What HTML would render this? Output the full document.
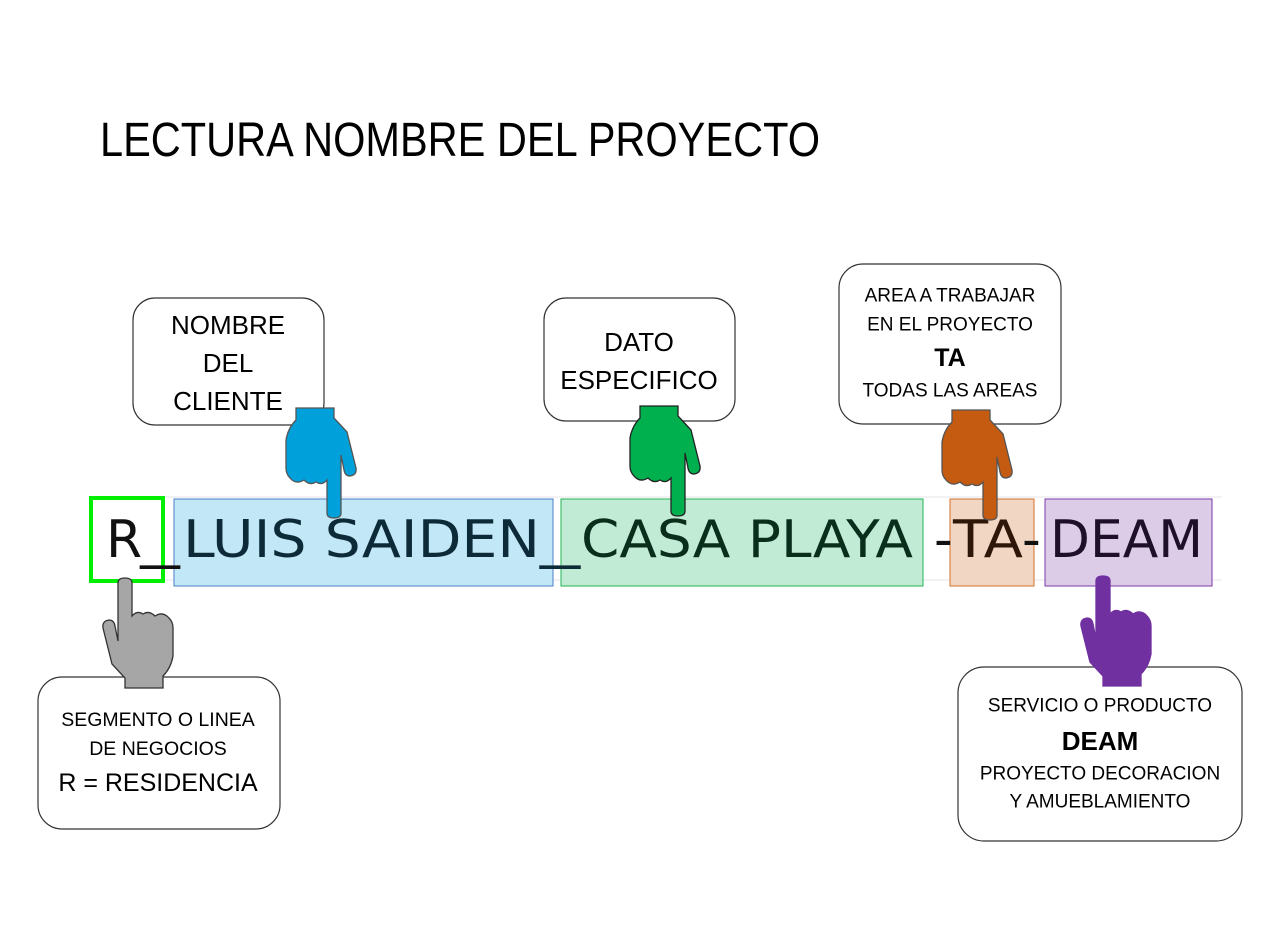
<!DOCTYPE html>
<html><head><meta charset="utf-8"><style>
html,body{margin:0;padding:0;background:#fff;}
svg{display:block;}
.c{font-family:"Liberation Sans",sans-serif;fill:#000;text-anchor:middle;dominant-baseline:central;}
.b{font-family:"DejaVu Sans",sans-serif;font-size:52px;}
</style></head><body>
<svg width="1280" height="945" viewBox="0 0 1280 945" xmlns="http://www.w3.org/2000/svg">
<defs>
<path id="hand" d="M0,0 L38,0 L38,10 L51,24 L60,60 Q61,67 54,68 Q49,68 48,62 L45,47 L45,105 Q45,110 38,110 Q31,110 31,105 L31,72 Q26,78 20,74 Q14,78 8,72 Q0,77 -6,70 Q-10,66 -10,60 L-10,32 Q-8,20 0,12 Z"/>
</defs>
<text x="100" y="156" font-family="Liberation Sans, sans-serif" font-size="48" textLength="720" lengthAdjust="spacingAndGlyphs">LECTURA NOMBRE DEL PROYECTO</text>

<line x1="88" y1="497" x2="1222" y2="497" stroke="#e6e6ea" stroke-width="1"/>
<line x1="88" y1="580" x2="1222" y2="580" stroke="#e6e6ea" stroke-width="1"/>

<rect x="174" y="499" width="379" height="87" fill="#c2e7f6" stroke="#4a7fc8" stroke-width="1"/>
<rect x="561" y="499" width="362" height="87" fill="#c1ebd5" stroke="#22b455" stroke-width="1"/>
<rect x="950" y="499" width="84" height="87" fill="#f0d6c3" stroke="#d4722a" stroke-width="1"/>
<rect x="1045" y="499" width="167" height="87" fill="#ddcce8" stroke="#7a3aa8" stroke-width="1"/>
<rect x="91" y="498" width="72" height="83" fill="none" stroke="#00ee00" stroke-width="4"/>

<text class="b" x="106" y="557" fill="#111">R</text>
<text class="b" x="140" y="557" fill="#111" textLength="40" lengthAdjust="spacingAndGlyphs">__</text>
<text class="b" x="183" y="557" fill="#0d2a38" textLength="357" lengthAdjust="spacingAndGlyphs">LUIS SAIDEN</text>
<text class="b" x="540" y="557" fill="#0d2a38" textLength="40" lengthAdjust="spacingAndGlyphs">_</text>
<text class="b" x="581" y="557" fill="#0a2e1c" textLength="332" lengthAdjust="spacingAndGlyphs">CASA PLAYA</text>
<text class="b" x="934" y="557" fill="#111">-</text>
<text class="b" x="953" y="557" fill="#2e1608" textLength="70" lengthAdjust="spacingAndGlyphs">TA</text>
<text class="b" x="1022" y="557" fill="#111">-</text>
<text class="b" x="1050" y="557" fill="#1e1028" textLength="153" lengthAdjust="spacingAndGlyphs">DEAM</text>

<g fill="#fff" stroke="#333" stroke-width="1.2">
<rect x="133" y="298" width="191" height="127" rx="22"/>
<rect x="544" y="298" width="191" height="123" rx="22"/>
<rect x="839" y="264" width="222" height="160" rx="24"/>
<rect x="38" y="677" width="242" height="152" rx="24"/>
<rect x="958" y="667" width="284" height="174" rx="26"/>
</g>
<text class="c" x="228" y="325" font-size="26">NOMBRE</text>
<text class="c" x="228" y="363" font-size="26">DEL</text>
<text class="c" x="228" y="401" font-size="26">CLIENTE</text>
<text class="c" x="639" y="342" font-size="26">DATO</text>
<text class="c" x="639" y="380" font-size="26">ESPECIFICO</text>
<text class="c" x="950" y="296" font-size="19">AREA A TRABAJAR</text>
<text class="c" x="950" y="325" font-size="19">EN EL PROYECTO</text>
<text class="c" x="950" y="358" font-size="25" font-weight="bold">TA</text>
<text class="c" x="950" y="391" font-size="19">TODAS LAS AREAS</text>
<text class="c" x="158" y="720" font-size="19.5">SEGMENTO O LINEA</text>
<text class="c" x="158" y="749" font-size="19.5">DE NEGOCIOS</text>
<text class="c" x="158" y="783" font-size="25">R = RESIDENCIA</text>
<text class="c" x="1100" y="706" font-size="19">SERVICIO O PRODUCTO</text>
<text class="c" x="1100" y="741" font-size="26" font-weight="bold">DEAM</text>
<text class="c" x="1100" y="774" font-size="19">PROYECTO DECORACION</text>
<text class="c" x="1100" y="802" font-size="19">Y AMUEBLAMIENTO</text>

<use href="#hand" transform="translate(296,408)" fill="#00a0db" stroke="#555" stroke-width="1.3"/>
<use href="#hand" transform="translate(640,406)" fill="#00b04f" stroke="#222" stroke-width="1.3"/>
<use href="#hand" transform="translate(952,410)" fill="#c55a11" stroke="#555" stroke-width="1.3"/>
<use href="#hand" transform="translate(163,688) rotate(180)" fill="#a6a6a6" stroke="#333" stroke-width="1.3"/>
<use href="#hand" transform="translate(1141,686) rotate(180)" fill="#7030a0" stroke="#7030a0" stroke-width="1.3"/>
</svg>
</body></html>
